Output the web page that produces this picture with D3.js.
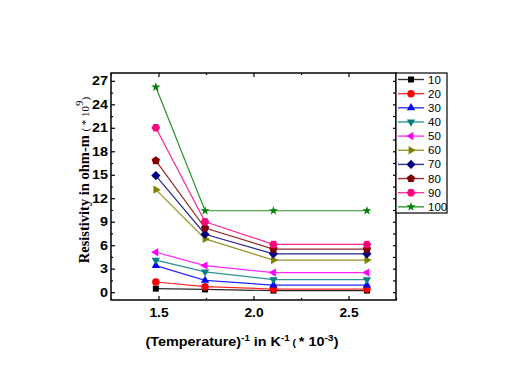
<!DOCTYPE html>
<html>
<head>
<meta charset="utf-8">
<script src="https://cdn.jsdelivr.net/npm/d3@7"></script>
<style>
  body { margin: 0; background: #fff; }
  svg { display: block; }
</style>
</head>
<body>
<div id="graph"></div>
<script>
// Data
var invTemp = [1.486, 1.745, 2.105, 2.597];
var seriesNames = ["10", "20", "30", "40", "50", "60", "70", "80", "90", "100"];
var s10  = [0.45, 0.35, 0.2, 0.2];
var s20  = [1.3, 0.7, 0.4, 0.4];
var s30  = [3.4, 1.5, 0.9, 0.9];
var s40  = [4.1, 2.6, 1.6, 1.6];
var s50  = [5.1, 3.4, 2.5, 2.5];
var s60  = [13.1, 6.8, 4.1, 4.1];
var s70  = [14.9, 7.4, 4.9, 4.9];
var s80  = [16.8, 8.2, 5.5, 5.5];
var s90  = [21.0, 9.0, 6.1, 6.1];
var s100 = [26.2, 10.4, 10.4, 10.4];
var xTicks = [1.5, 2.0, 2.5];
var yTicks = [0, 3, 6, 9, 12, 15, 18, 21, 24, 27];

var allSeries = [s10, s20, s30, s40, s50, s60, s70, s80, s90, s100];
var colors = ["#000000", "#ff0000", "#0000ff", "#008080", "#ff00ff",
              "#808000", "#000080", "#800000", "#ff0080", "#008000"];
var shapes = ["square", "circle", "up", "down", "left", "right",
              "diamond", "pentagon", "hexagon", "star"];

var W = 512, H = 384;
var PLOT = {left: 111, right: 396, top: 73, bottom: 300};
var STRETCH = 1.15;   // the source text looks a bit wide

var svg = d3.select("#graph").append("svg")
            .attr("width", W).attr("height", H);

var xscale = d3.scaleLinear().domain([1.25, 2.75]).range([PLOT.left, PLOT.right]);
var yscale = d3.scaleLinear().domain([-1, 28]).range([PLOT.bottom, PLOT.top]);

// polygon path centred on 0,0
function polygon(n, r, rot) {
  var pts = d3.range(n).map(function(i) {
    var a = rot + i * 2 * Math.PI / n;
    return [r * Math.cos(a), r * Math.sin(a)];
  });
  return "M" + pts.map(function(p) { return p[0].toFixed(2) + "," + p[1].toFixed(2); }).join("L") + "Z";
}

function markerPath(shape) {
  switch (shape) {
    case "square":   return d3.symbol(d3.symbolSquare, 36)();
    case "circle":   return d3.symbol(d3.symbolCircle, 44)();
    case "up":       return polygon(3, 4.8, -Math.PI / 2);
    case "down":     return polygon(3, 4.8, Math.PI / 2);
    case "left":     return polygon(3, 4.8, Math.PI);
    case "right":    return polygon(3, 4.8, 0);
    case "diamond":  return polygon(4, 4.6, -Math.PI / 2);
    case "pentagon": return polygon(5, 4.4, -Math.PI / 2);
    case "hexagon":  return polygon(6, 4.3, 0);
    case "star":     return d3.symbol(d3.symbolStar, 26)();
  }
}

// widen tick text around its own anchor point
function styleTicks(g, size) {
  g.selectAll(".tick text")
   .attr("font-family", "Liberation Sans, Arial")
   .attr("font-weight", "bold").attr("font-size", size).attr("fill", "#000")
   .attr("transform", function() {
     var x = +d3.select(this).attr("x") || 0;
     return "translate(" + x + ",0) scale(" + STRETCH + ",1) translate(" + (-x) + ",0)";
   });
}

// Axes: inward ticks on all four sides
var yMinor = d3.range(-1.5, 28.1, 1.5).filter(function(v) { return v >= -1 && yTicks.indexOf(v) < 0; });
var xMinor = [1.25, 1.75, 2.25, 2.75];

var gAxes = svg.append("g");

gAxes.append("g").attr("transform", "translate(" + PLOT.left + ",0)")
  .call(d3.axisLeft(yscale).tickValues(yTicks).tickSizeInner(-4).tickSizeOuter(0).tickPadding(3))
  .call(styleTicks, 12.5);
gAxes.append("g").attr("transform", "translate(" + PLOT.left + ",0)")
  .call(d3.axisLeft(yscale).tickValues(yMinor).tickSizeInner(-2).tickSizeOuter(0).tickFormat(""));

gAxes.append("g").attr("transform", "translate(" + PLOT.right + ",0)")
  .call(d3.axisRight(yscale).tickValues(yTicks.concat(yMinor)).tickSizeInner(-3).tickSizeOuter(0).tickFormat(""));

gAxes.append("g").attr("transform", "translate(0," + PLOT.bottom + ")")
  .call(d3.axisBottom(xscale).tickValues(xTicks).tickSizeInner(-4).tickSizeOuter(0).tickPadding(8)
          .tickFormat(d3.format(".1f")))
  .call(styleTicks, 12);
gAxes.append("g").attr("transform", "translate(0," + PLOT.bottom + ")")
  .call(d3.axisBottom(xscale).tickValues(xMinor).tickSizeInner(-2).tickSizeOuter(0).tickFormat(""));

gAxes.append("g").attr("transform", "translate(0," + PLOT.top + ")")
  .call(d3.axisTop(xscale).tickValues(xTicks).tickSizeInner(-4).tickSizeOuter(0).tickFormat(""));
gAxes.append("g").attr("transform", "translate(0," + PLOT.top + ")")
  .call(d3.axisTop(xscale).tickValues(xMinor).tickSizeInner(-2).tickSizeOuter(0).tickFormat(""));

gAxes.selectAll("path.domain").remove();
gAxes.selectAll("line").attr("stroke", "#000").attr("stroke-width", 1.2);

svg.append("rect")
   .attr("x", PLOT.left).attr("y", PLOT.top)
   .attr("width", PLOT.right - PLOT.left).attr("height", PLOT.bottom - PLOT.top)
   .attr("fill", "none").attr("stroke", "#000").attr("stroke-width", 1.5);

// Lines and markers
var line = d3.line()
             .x(function(d, i) { return xscale(invTemp[i]); })
             .y(function(d) { return yscale(d); });

allSeries.forEach(function(vals, k) {
  var g = svg.append("g");
  g.append("path").datum(vals)
   .attr("d", line).attr("fill", "none")
   .attr("stroke", colors[k]).attr("stroke-width", 1.2).attr("stroke-opacity", 0.85);
  g.selectAll("path.pt").data(vals).enter().append("path")
   .attr("class", "pt")
   .attr("d", markerPath(shapes[k]))
   .attr("transform", function(d, i) { return "translate(" + xscale(invTemp[i]) + "," + yscale(d) + ")"; })
   .attr("fill", colors[k]);
});

// Legend
var legend = svg.append("g");
legend.append("rect")
  .attr("x", 396).attr("y", 73).attr("width", 51).attr("height", 140)
  .attr("fill", "#fff").attr("stroke", "#000").attr("stroke-width", 1.2);

seriesNames.forEach(function(name, k) {
  var y = 79.5 + k * 14.15;
  legend.append("line").attr("x1", 398).attr("x2", 424).attr("y1", y).attr("y2", y)
    .attr("stroke", colors[k]).attr("stroke-width", 1.4).attr("stroke-opacity", 0.8);
  legend.append("path").attr("d", markerPath(shapes[k]))
    .attr("transform", "translate(411," + y + ")").attr("fill", colors[k]);
  legend.append("text").attr("x", 428).attr("y", y + 4)
    .attr("font-family", "Liberation Sans, Arial").attr("font-size", 11.5)
    .attr("fill", "#000").text(name);
});

// Axis titles
var xt = svg.append("text")
  .attr("x", 0).attr("y", 0).attr("text-anchor", "middle")
  .attr("transform", "translate(242,346) scale(" + STRETCH + ",1)")
  .attr("font-family", "Liberation Sans, Arial").attr("font-weight", "bold")
  .attr("font-size", 12.5).attr("fill", "#000");
xt.append("tspan").text("(Temperature)");
xt.append("tspan").attr("dy", -5).attr("font-size", 8.5).text("-1");
xt.append("tspan").attr("dy", 5).text(" in K");
xt.append("tspan").attr("dy", -5).attr("font-size", 8.5).text("-1");
xt.append("tspan").attr("dy", 5).attr("font-size", 9).text(" ( ");
xt.append("tspan").text("* 10");
xt.append("tspan").attr("dy", -5).attr("font-size", 9).text("-3");
xt.append("tspan").attr("dy", 5).text(")");

var yt = svg.append("text")
  .attr("transform", "translate(89,180) rotate(-90)").attr("text-anchor", "middle")
  .attr("font-family", "Liberation Serif, Times New Roman").attr("font-weight", "bold")
  .attr("font-size", 14.5).attr("fill", "#000");
yt.append("tspan").text("Resistivity in ohm-m ");
yt.append("tspan").attr("font-size", 11).attr("font-weight", "normal").text("( * 10");
yt.append("tspan").attr("dy", -6).attr("font-size", 11).attr("font-weight", "normal").text("9");
yt.append("tspan").attr("dy", 6).attr("font-size", 11).attr("font-weight", "normal").text(")");
</script>
</body>
</html>
